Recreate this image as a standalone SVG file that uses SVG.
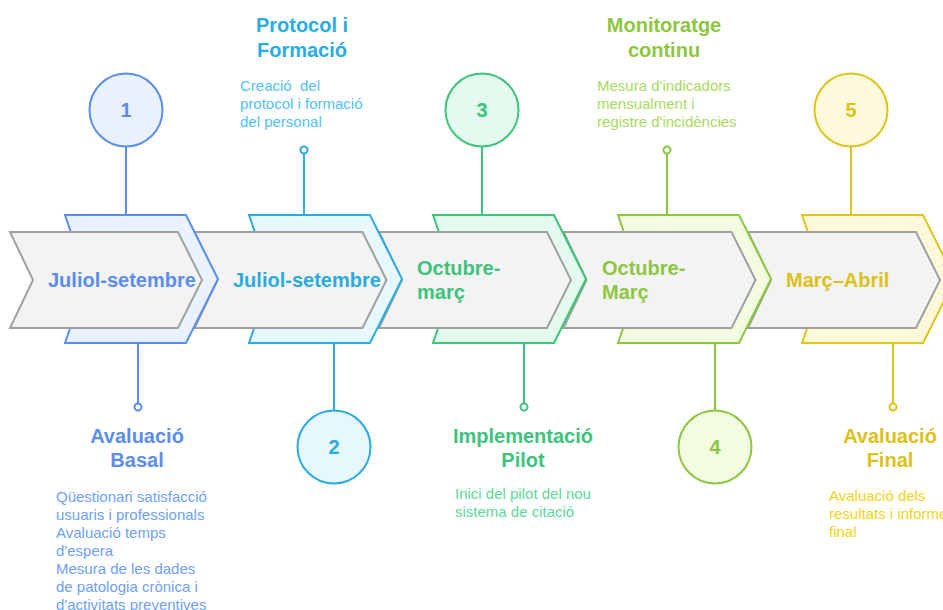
<svg xmlns="http://www.w3.org/2000/svg" width="943" height="610" viewBox="0 0 943 610">
<style>
text{font-family:"Liberation Sans",Arial,sans-serif}
.lab{font-size:20px;font-weight:bold}
.hd{font-size:20px;font-weight:bold;text-anchor:middle}
.ds{font-size:15px}
.num{font-size:20px;font-weight:bold;text-anchor:middle}
.gray{fill:#F3F3F3;stroke:#A0A0A0;stroke-width:2;stroke-linejoin:miter}
.c1{fill:#EAF1FE;stroke:#5B8DEF;stroke-width:2}
.c2{fill:#E6F7FD;stroke:#2AACE2;stroke-width:2}
.c3{fill:#E4FAEF;stroke:#3CC47C;stroke-width:2}
.c4{fill:#F1FCE1;stroke:#8DC63F;stroke-width:2}
.c5{fill:#FEF9DA;stroke:#E0C41A;stroke-width:2}
.t1{fill:#5B8DEF}.d1{fill:#6FA0F8}
.t2{fill:#2AACE2}.d2{fill:#4FC3F7}
.t3{fill:#3CC47C}.d3{fill:#5ED89A}
.t4{fill:#8DC63F}.d4{fill:#A6DB5E}
.t5{fill:#DCC11A}.d5{fill:#F3D31A}
.l1{stroke:#5B8DEF;stroke-width:2;fill:#fff}
.l2{stroke:#2AACE2;stroke-width:2;fill:#fff}
.l3{stroke:#3CC47C;stroke-width:2;fill:#fff}
.l4{stroke:#8DC63F;stroke-width:2;fill:#fff}
.l5{stroke:#E0C41A;stroke-width:2;fill:#fff}
</style>
<rect width="943" height="610" fill="#fff"/>
<g id="chevrons">
<g id="step5-chevron">
<polygon class="c5" points="802,215 923,215 955,279 923,343 802,343 824,279"/>
<polygon class="gray" points="748,232 916,232 940,280 916,328 748,328 771,280"/>
<text class="lab t5" x="786" y="287">Març–Abril</text>
</g>
<g id="step4-chevron">
<polygon class="c4" points="618,215 739,215 771,279 739,343 618,343 640,279"/>
<polygon class="gray" points="563.5,232 731.5,232 755.5,280 731.5,328 563.5,328 586.5,280"/>
<text class="lab t4" x="602" y="275">Octubre-</text>
<text class="lab t4" x="602" y="299">Març</text>
</g>
<g id="step3-chevron">
<polygon class="c3" points="433,215 554,215 586,279 554,343 433,343 455,279"/>
<polygon class="gray" points="379,232 547,232 571,280 547,328 379,328 402,280"/>
<text class="lab t3" x="417" y="275">Octubre-</text>
<text class="lab t3" x="417" y="299">març</text>
</g>
<g id="step2-chevron">
<polygon class="c2" points="249,215 370,215 402,279 370,343 249,343 271,279"/>
<polygon class="gray" points="194.5,232 362.5,232 386.5,280 362.5,328 194.5,328 217.5,280"/>
<text class="lab t2" x="233" y="287">Juliol-setembre</text>
</g>
<g id="step1-chevron">
<polygon class="c1" points="65,215 186,215 218,279 186,343 65,343 87,279"/>
<polygon class="gray" points="10,232 178,232 202,280 178,328 10,328 33,280"/>
<text class="lab t1" x="48" y="287">Juliol-setembre</text>
</g>
</g>
<g id="connectors">
<line class="l1" x1="126" y1="146.5" x2="126" y2="215"/>
<line class="l1" x1="138" y1="343" x2="138" y2="403.5"/>
<circle class="l1" cx="138" cy="407" r="3.5"/>
<line class="l2" x1="304" y1="153.5" x2="304" y2="215"/>
<circle class="l2" cx="304" cy="150" r="3.5"/>
<line class="l2" x1="334" y1="343" x2="334" y2="410.5"/>
<line class="l3" x1="482" y1="146.5" x2="482" y2="215"/>
<line class="l3" x1="524" y1="343" x2="524" y2="403.5"/>
<circle class="l3" cx="524" cy="407" r="3.5"/>
<line class="l4" x1="667" y1="153.5" x2="667" y2="215"/>
<circle class="l4" cx="667" cy="150" r="3.5"/>
<line class="l4" x1="715" y1="343" x2="715" y2="410.5"/>
<line class="l5" x1="851" y1="146.5" x2="851" y2="215"/>
<line class="l5" x1="893" y1="343" x2="893" y2="403.5"/>
<circle class="l5" cx="893" cy="407" r="3.5"/>
</g>
<g id="node1">
<circle class="c1" cx="126" cy="110" r="36.5"/>
<text class="num t1" x="126" y="117">1</text>
<text class="hd t1" x="137" y="443">Avaluació</text>
<text class="hd t1" x="137" y="467">Basal</text>
<text class="ds d1" x="56" y="502">Qüestionari satisfacció</text>
<text class="ds d1" x="56" y="520">usuaris i professionals</text>
<text class="ds d1" x="56" y="538">Avaluació temps</text>
<text class="ds d1" x="56" y="556">d'espera</text>
<text class="ds d1" x="56" y="574">Mesura de les dades</text>
<text class="ds d1" x="56" y="592">de patologia crònica i</text>
<text class="ds d1" x="56" y="610">d'activitats preventives</text>
</g>
<g id="node2">
<circle class="c2" cx="334" cy="447" r="36.5"/>
<text class="num t2" x="334" y="454">2</text>
<text class="hd t2" x="302" y="32">Protocol i</text>
<text class="hd t2" x="302" y="57">Formació</text>
<text class="ds d2" x="240" y="91" xml:space="preserve">Creació  del</text>
<text class="ds d2" x="240" y="109">protocol i formació</text>
<text class="ds d2" x="240" y="127">del personal</text>
</g>
<g id="node3">
<circle class="c3" cx="482" cy="110" r="36.5"/>
<text class="num t3" x="482" y="117">3</text>
<text class="hd t3" x="523" y="443">Implementació</text>
<text class="hd t3" x="523" y="467">Pilot</text>
<text class="ds d3" x="455" y="499">Inici del pilot del nou</text>
<text class="ds d3" x="455" y="517">sistema de citació</text>
</g>
<g id="node4">
<circle class="c4" cx="715" cy="447" r="36.5"/>
<text class="num t4" x="715" y="454">4</text>
<text class="hd t4" x="664" y="32">Monitoratge</text>
<text class="hd t4" x="664" y="57">continu</text>
<text class="ds d4" x="597" y="91">Mesura d'indicadors</text>
<text class="ds d4" x="597" y="109">mensualment i</text>
<text class="ds d4" x="597" y="127">registre d'incidències</text>
</g>
<g id="node5">
<circle class="c5" cx="851" cy="110" r="36.5"/>
<text class="num t5" x="851" y="117">5</text>
<text class="hd t5" x="890" y="443">Avaluació</text>
<text class="hd t5" x="890" y="467">Final</text>
<text class="ds d5" x="829" y="501">Avaluació dels</text>
<text class="ds d5" x="829" y="519">resultats i informe</text>
<text class="ds d5" x="829" y="537">final</text>
</g>
</svg>
